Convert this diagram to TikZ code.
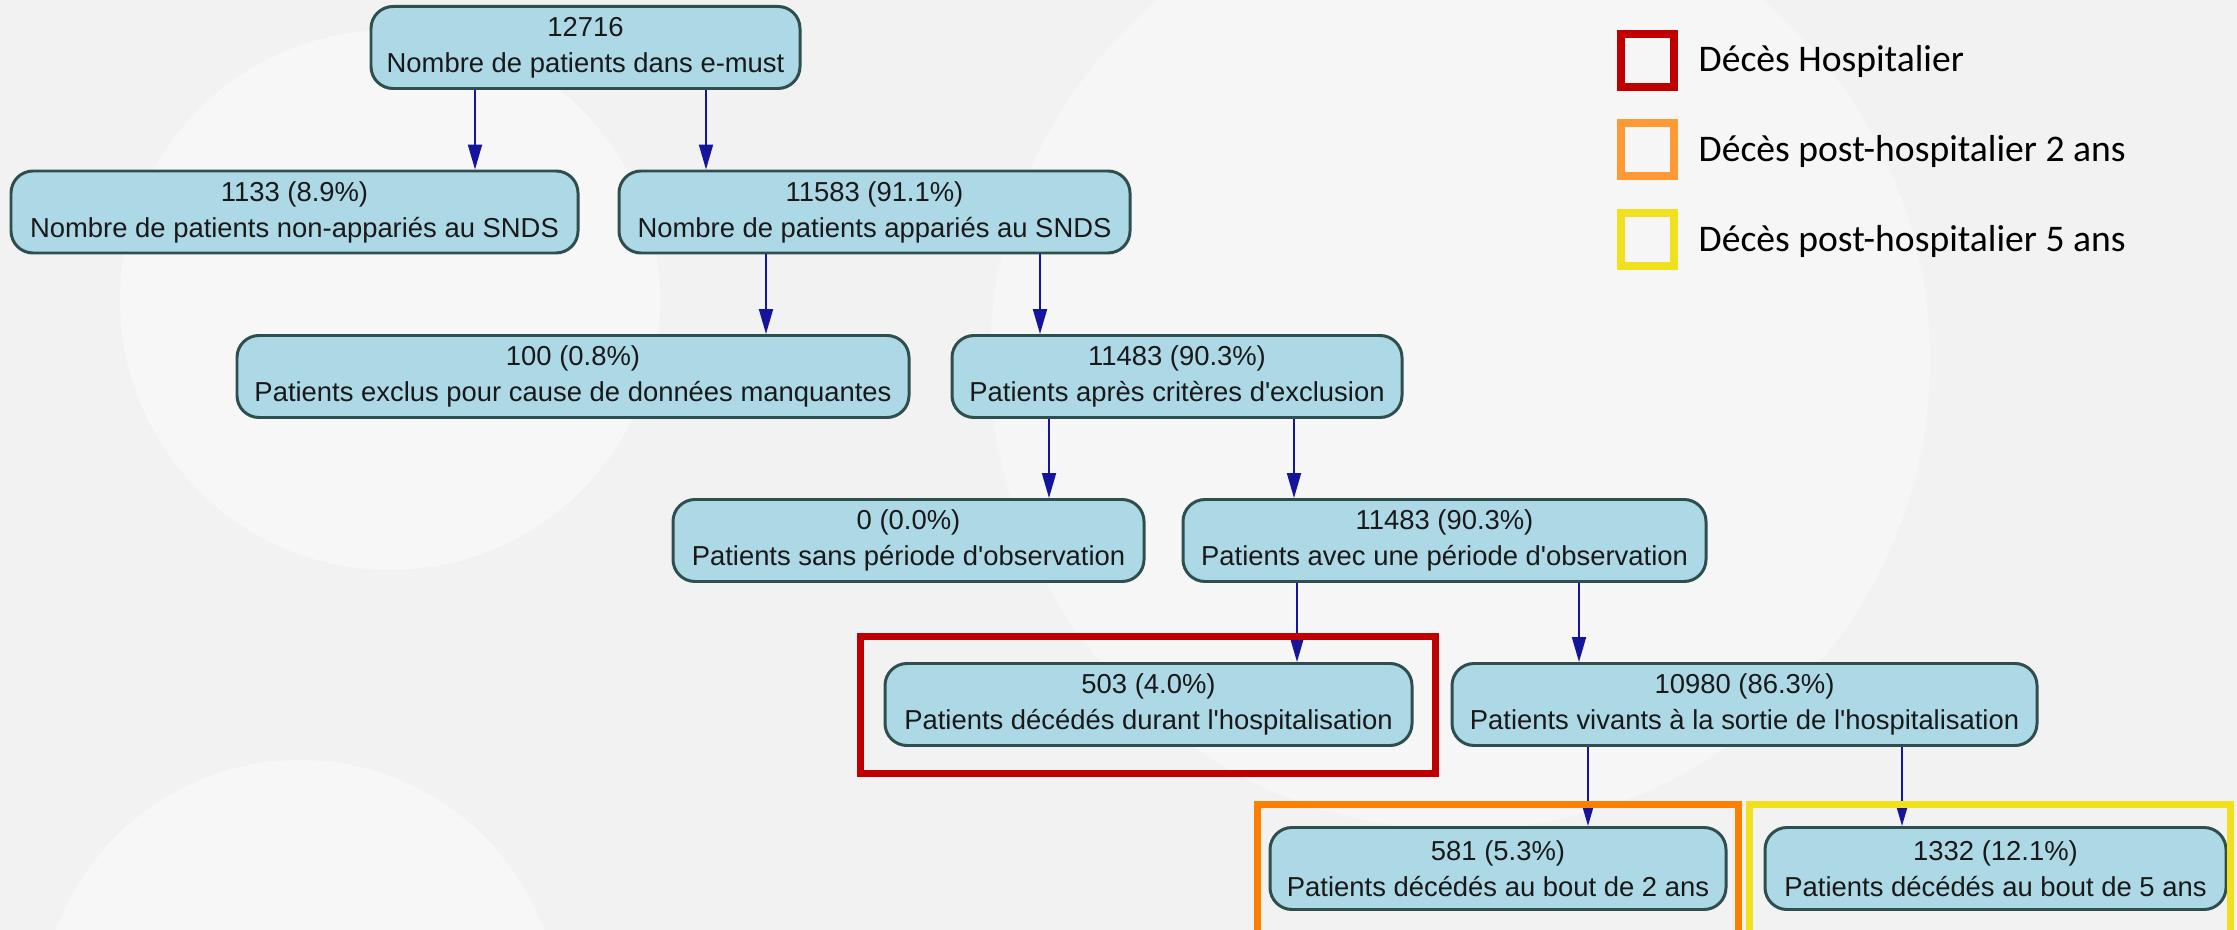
\documentclass[tikz,border=0pt]{standalone}
\usepackage{fontspec}
\newfontfamily\nodefont{Liberation Sans}
\newfontfamily\keyfont{Carlito}
\usetikzlibrary{arrows.meta,calc}
\definecolor{boxblue}{HTML}{ADD8E6}
\definecolor{boxline}{HTML}{2F4F4F}
\definecolor{edgeblue}{HTML}{14149C}
\definecolor{hosp}{HTML}{C00000}
\definecolor{twoyr}{HTML}{FF8000}
\definecolor{twoyrkey}{HTML}{FF9933}
\definecolor{fiveyr}{HTML}{F0E01E}
\definecolor{bggray}{HTML}{F2F2F2}
\tikzset{flowbox/.style={draw=boxline,fill=boxblue,line width=0.85pt,rounded corners=0.22cm,
  minimum height=0.82cm,minimum width=#1,inner sep=0pt,align=center,text=black!90,
  font=\nodefont\fontsize{7.8}{10.2}\selectfont},
  flow/.style={draw=edgeblue,line width=0.55pt,-{Triangle[length=0.25cm,width=0.14cm]}},
  hl/.style={line width=0.07cm},
  keybox/.style={line width=0.08cm,minimum size=0.53cm,inner sep=0pt},
  keytext/.style={anchor=base west,inner sep=0pt,font=\keyfont\fontsize{10.7}{13}\selectfont}}

\begin{document}
\begin{tikzpicture}
\useasboundingbox (0,0) rectangle (22.37,-9.30);
\clip (0,0) rectangle (22.37,-9.30);
% background
\fill[bggray] (0,0) rectangle (22.37,-9.30);
\fill[white,opacity=0.4] (3.9,-3.0) circle (2.7);
\fill[white,opacity=0.35] (14.6,-3.6) circle (4.7);
\fill[white,opacity=0.4] (3.0,-10.2) circle (2.6);

% flow chart
\node[flowbox=4.29cm] (n0) at (5.855,-0.475) {12716\\Nombre de patients dans e-must};
\node[flowbox=5.67cm] (n1) at (2.945,-2.12) {1133 (8.9\%)\\Nombre de patients non-appariés au SNDS};
\node[flowbox=5.11cm] (n2) at (8.745,-2.12) {11583 (91.1\%)\\Nombre de patients appariés au SNDS};
\node[flowbox=6.72cm] (n3) at (5.73,-3.765) {100 (0.8\%)\\Patients exclus pour cause de données manquantes};
\node[flowbox=4.50cm] (n4) at (11.77,-3.765) {11483 (90.3\%)\\Patients après critères d'exclusion};
\node[flowbox=4.71cm] (n5) at (9.085,-5.405) {0 (0.0\%)\\Patients sans période d'observation};
\node[flowbox=5.23cm] (n6) at (14.445,-5.405) {11483 (90.3\%)\\Patients avec une période d'observation};
\node[flowbox=5.27cm] (n7) at (11.485,-7.045) {503 (4.0\%)\\Patients décédés durant l'hospitalisation};
\node[flowbox=5.85cm] (n8) at (17.445,-7.045) {10980 (86.3\%)\\Patients vivants à la sortie de l'hospitalisation};
\node[flowbox=4.56cm] (n9) at (14.98,-8.685) {581 (5.3\%)\\Patients décédés au bout de 2 ans};
\node[flowbox=4.61cm] (n10) at (19.955,-8.685) {1332 (12.1\%)\\Patients décédés au bout de 5 ans};

\draw[flow] (n0.south -| 4.75,0) -- (n1.north -| 4.75,0);
\draw[flow] (n0.south -| 7.06,0) -- (n2.north -| 7.06,0);
\draw[flow] (n2.south -| 7.66,0) -- (n3.north -| 7.66,0);
\draw[flow] (n2.south -| 10.40,0) -- (n4.north -| 10.40,0);
\draw[flow] (n4.south -| 10.49,0) -- (n5.north -| 10.49,0);
\draw[flow] (n4.south -| 12.94,0) -- (n6.north -| 12.94,0);
\draw[flow] (n6.south -| 12.97,0) -- (n7.north -| 12.97,0);
\draw[flow] (n6.south -| 15.79,0) -- (n8.north -| 15.79,0);
\draw[flow] (n8.south -| 15.88,0) -- (n9.north -| 15.88,0);
\draw[flow] (n8.south -| 19.02,0) -- (n10.north -| 19.02,0);

% highlight frames
\draw[hl,draw=hosp] (8.605,-6.365) rectangle (14.355,-7.735);
\draw[hl,draw=twoyr] (12.575,-8.045) rectangle (17.385,-9.50);
\draw[hl,draw=fiveyr] (17.495,-8.045) rectangle (22.305,-9.50);

% legend
\node[keybox,draw=hosp] (k1) at (16.475,-0.61) {};
\node[keybox,draw=twoyrkey] (k2) at (16.475,-1.50) {};
\node[keybox,draw=fiveyr] (k3) at (16.475,-2.40) {};
\node[keytext] (t1) at (16.98,-0.72) {Décès Hospitalier};
\node[keytext] (t2) at (16.98,-1.62) {Décès post-hospitalier 2 ans};
\node[keytext] (t3) at (16.98,-2.52) {Décès post-hospitalier 5 ans};
\end{tikzpicture}
\end{document}
